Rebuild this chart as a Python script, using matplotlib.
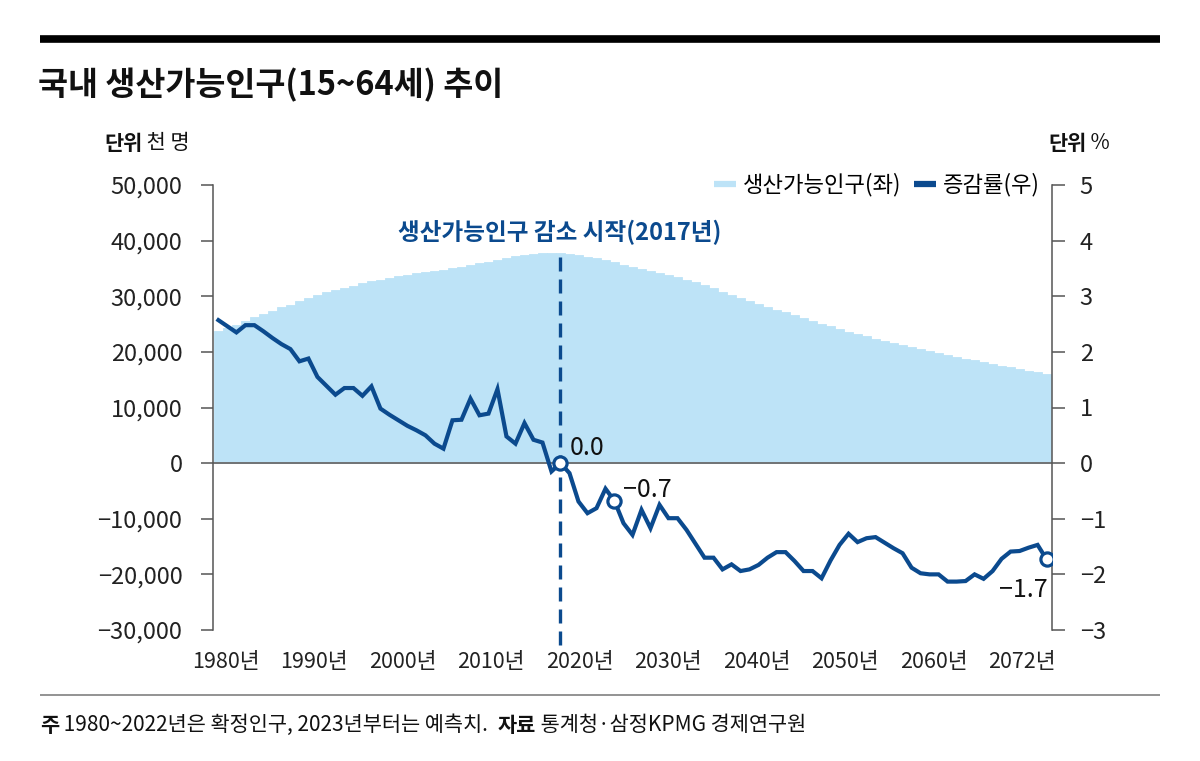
import matplotlib
matplotlib.use('Agg')
import matplotlib.pyplot as plt
from matplotlib.lines import Line2D
import numpy as np

plt.rcParams['font.family'] = ['Noto Sans CJK KR', 'DejaVu Sans']
plt.rcParams['axes.unicode_minus'] = True

# ---------------- data ----------------
years = list(range(1980, 2073))

population = [  # 생산가능인구, 천 명
    23700, 24300, 24900, 25600, 26200, 26800, 27400, 28000, 28500, 29100,
    29700, 30200, 30700, 31100, 31500, 31900, 32300, 32700, 33000, 33300,
    33600, 33900, 34100, 34300, 34500, 34700, 35000, 35300, 35600, 35900,
    36200, 36600, 36900, 37200, 37500, 37600, 37700, 37700, 37700, 37600,
    37400, 37100, 36800, 36500, 36100, 35700, 35300, 34900, 34500, 34200,
    33800, 33400, 33000, 32500, 32000, 31400, 30800, 30300, 29700, 29200,
    28600, 28100, 27600, 27100, 26600, 26100, 25600, 25100, 24600, 24100,
    23600, 23200, 22800, 22400, 22000, 21600, 21200, 20800, 20500, 20100,
    19800, 19500, 19100, 18800, 18500, 18100, 17800, 17500, 17200, 16900,
    16600, 16300, 16000,
]

growth = [  # 증감률, %
    2.57, 2.46, 2.35, 2.48, 2.48, 2.37, 2.25, 2.14, 2.05, 1.83,
    1.88, 1.55, 1.39, 1.23, 1.35, 1.35, 1.21, 1.38, 0.98, 0.87,
    0.77, 0.67, 0.59, 0.50, 0.35, 0.26, 0.77, 0.78, 1.16, 0.86,
    0.89, 1.33, 0.48, 0.35, 0.72, 0.42, 0.37, -0.15, 0.00, -0.18,
    -0.69, -0.90, -0.81, -0.46, -0.68, -1.08, -1.29, -0.84, -1.17, -0.75,
    -0.99, -0.99, -1.20, -1.45, -1.70, -1.70, -1.91, -1.82, -1.94, -1.91,
    -1.83, -1.70, -1.60, -1.60, -1.76, -1.94, -1.94, -2.07, -1.75, -1.47,
    -1.27, -1.42, -1.35, -1.33, -1.43, -1.53, -1.62, -1.88, -1.98, -2.00,
    -2.00, -2.13, -2.13, -2.12, -2.00, -2.08, -1.94, -1.72, -1.59, -1.58,
    -1.52, -1.47, -1.73,
]

highlight_years = [2018, 2024, 2072]
highlight_labels = ['0.0', '\u22120.7', '\u22121.7']
decline_year = 2018

xtick_labels = ['1980년', '1990년', '2000년', '2010년', '2020년',
                '2030년', '2040년', '2050년', '2060년', '2072년']
left_ticks = [50000, 40000, 30000, 20000, 10000, 0, -10000, -20000, -30000]
right_ticks = [5, 4, 3, 2, 1, 0, -1, -2, -3]

# ---------------- style ----------------
NAVY = '#0b4a8e'
LIGHT = '#bde3f7'
GRAY = '#555555'
W, H = 1200, 761

fig = plt.figure(figsize=(W / 100, H / 100), dpi=100)
fig.patch.set_facecolor('white')


def fx(x):
    return x / W


def fy(y):
    return 1 - y / H


ax = fig.add_axes([fx(213), fy(630), fx(1052) - fx(213), fy(185) - fy(630)])
ax2 = ax.twinx()

# area (bars)
ax.bar(years, population, width=1.0, color=LIGHT, edgecolor=LIGHT,
       linewidth=0.6, zorder=1)
ax.axhline(0, color='#6a6a6a', lw=1.3, zorder=2)
ax.set_xlim(1979.4, 2072.6)
ax.set_ylim(-30000, 50000)
ax2.set_ylim(-3, 5)

# growth line
ax2.plot(years, growth, color=NAVY, lw=3.0, solid_joinstyle='miter', zorder=5)
hx = highlight_years
hy = [growth[years.index(y)] for y in hx]
ax2.plot(hx, hy, ls='none', marker='o', ms=9.5, mfc='white', mec=NAVY,
         mew=2.3, zorder=6)

# dashed vertical line
ax2.plot([decline_year, decline_year], [-3.27, 3.82], color=NAVY, lw=2.4,
         ls=(0, (4.2, 2.4)), clip_on=False, zorder=4)

# value labels
offsets = [(7, 11, 'left'), (6, 8, 'left'), (1, -22, 'right')]
for (x, y, lab, (dx, dy, ha)) in zip(hx, hy, highlight_labels, offsets):
    ax2.annotate(lab, (x, y), xytext=(dx, dy), textcoords='offset points',
                 ha=ha, va='center', fontsize=18, fontweight='medium',
                 color='#111111', zorder=7)

# axes styling
for a in (ax, ax2):
    for s in ('top', 'bottom'):
        a.spines[s].set_visible(False)
ax.spines['right'].set_visible(False)
ax2.spines['left'].set_visible(False)
ax.spines['left'].set_color(GRAY)
ax2.spines['right'].set_color(GRAY)
ax.spines['left'].set_linewidth(1.1)
ax2.spines['right'].set_linewidth(1.1)

ax.set_yticks(left_ticks)
ax.set_yticklabels([f'{v:,}'.replace('-', '\u2212') for v in left_ticks])
ax2.set_yticks(right_ticks)
ax2.set_yticklabels([str(v).replace('-', '\u2212') for v in right_ticks])
ax.tick_params(axis='y', direction='out', length=9, width=1.1, color=GRAY,
               labelsize=17, labelcolor='#222222', pad=13)
ax2.tick_params(axis='y', direction='out', length=9, width=1.1, color=GRAY,
                labelsize=17, labelcolor='#222222', pad=11)

xpos = np.linspace(1980.8, 2069.3, len(xtick_labels))
ax.set_xticks(xpos)
ax.set_xticklabels(xtick_labels)
ax.tick_params(axis='x', length=0, labelsize=15.5, labelcolor='#222222', pad=15)

# legend
handles = [Line2D([0], [0], color=LIGHT, lw=4.5, solid_capstyle='butt'),
           Line2D([0], [0], color=NAVY, lw=4.5, solid_capstyle='butt')]
fig.legend(handles, ['생산가능인구(좌)', '증감률(우)'], loc='center right',
           bbox_to_anchor=(fx(1040), fy(185)), ncol=2, frameon=False,
           fontsize=16, handlelength=1.0, handletextpad=0.3,
           columnspacing=0.6, borderaxespad=0, borderpad=0)

# annotation
fig.text(fx(560), fy(232), '생산가능인구 감소 시작(2017년)', ha='center',
         va='center', fontsize=17, fontweight='bold', color=NAVY)

# decorations
fig.add_artist(Line2D([fx(40), fx(1160)], [fy(38.5), fy(38.5)], lw=5.5,
                      color='black', solid_capstyle='butt'))
fig.add_artist(Line2D([fx(40), fx(1160)], [fy(695), fy(695)], lw=1.3,
                      color='#8a8a8a', solid_capstyle='butt'))

fig.text(fx(38), fy(85), '국내 생산가능인구(15~64세) 추이', ha='left',
         va='center', fontsize=23.5, fontweight='bold', color='#111111')

renderer = fig.canvas.get_renderer()


def rich(x, y, parts, size):
    cur = x
    for s, w in parts:
        t = fig.text(fx(cur), fy(y), s, fontsize=size, fontweight=w,
                     ha='left', va='center', color='#111111')
        cur += t.get_window_extent(renderer).width


rich(104, 143, [('단위', 'bold'), (' 천 명', 'normal')], 15)
rich(1048, 143, [('단위', 'bold'), (' %', 'normal')], 15)
rich(40, 725, [('주', 'bold'),
               (' 1980~2022년은 확정인구, 2023년부터는 예측치.  ', 'normal'),
               ('자료', 'bold'),
               (' 통계청·삼정KPMG 경제연구원', 'normal')], 15)

fig.savefig('out.png', dpi=100, facecolor='white')
